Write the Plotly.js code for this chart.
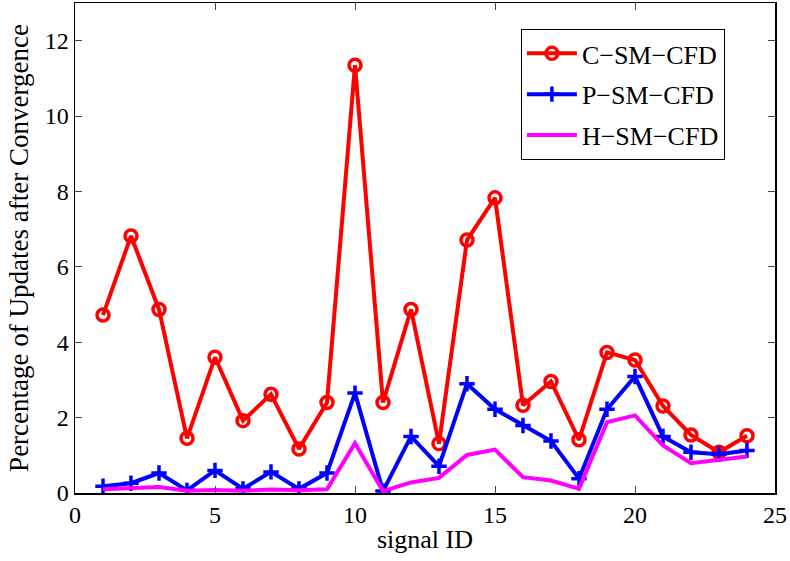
<!DOCTYPE html>
<html>
<head>
<meta charset="utf-8">
<script src="https://cdn.plot.ly/plotly-3.0.1.min.js"></script>
<style>
  html, body { margin: 0; padding: 0; background: #fff; }
  #chart { width: 790px; height: 561px; }
</style>
</head>
<body>
<div id="chart"></div>
<script>
// Signal IDs 1..24
const signalIds = [1, 2, 3, 4, 5, 6, 7, 8, 9, 10, 11, 12, 13, 14, 15, 16, 17, 18, 19, 20, 21, 22, 23, 24];

// Percentage of updates after convergence, per scheme
const cSmCfd = [4.72, 6.82, 4.87, 1.45, 3.60, 1.92, 2.62, 1.17, 2.40, 11.35, 2.40, 4.87,
                1.31, 6.71, 7.83, 2.33, 2.96, 1.41, 3.73, 3.53, 2.31, 1.54, 1.08, 1.52];
const pSmCfd = [0.18, 0.26, 0.53, 0.07, 0.60, 0.11, 0.56, 0.11, 0.53, 2.65, 0.05, 1.50,
                0.71, 2.90, 2.22, 1.79, 1.38, 0.38, 2.22, 3.09, 1.50, 1.08, 1.03, 1.13];
const hSmCfd = [0.10, 0.12, 0.16, 0.06, 0.08, 0.06, 0.09, 0.07, 0.10, 1.32, 0.05, 0.28,
                0.40, 1.01, 1.15, 0.42, 0.33, 0.11, 1.88, 2.06, 1.26, 0.79, 0.88, 0.97];

const seriesNames = ['C\u2212SM\u2212CFD', 'P\u2212SM\u2212CFD', 'H\u2212SM\u2212CFD'];

const xTicks = [0, 5, 10, 15, 20, 25];
const yTicks = [0, 2, 4, 6, 8, 10, 12];

const serif = '"Liberation Serif", "DejaVu Serif", serif';

const traces = [
  {
    x: signalIds, y: cSmCfd, name: seriesNames[0], legendgroup: 'a',
    type: 'scatter', mode: 'lines+markers',
    line: { color: '#ff0000', width: 4 },
    marker: { symbol: 'circle-open', size: 12, color: '#ff0000', line: { width: 3.5, color: '#ff0000' } }
  },
  {
    x: signalIds, y: pSmCfd, name: seriesNames[1], legendgroup: 'b',
    type: 'scatter', mode: 'lines+markers',
    line: { color: '#0000ff', width: 4 },
    marker: { symbol: 'cross-thin-open', size: 11, color: '#0000ff', line: { width: 3.5, color: '#0000ff' } }
  },
  {
    x: signalIds, y: hSmCfd, name: seriesNames[2], legendgroup: 'c',
    type: 'scatter', mode: 'lines',
    line: { color: '#ff00ff', width: 4 }
  }
];

const axisCommon = {
  showgrid: false, zeroline: false,
  showline: true, mirror: 'ticks',
  linecolor: '#000', linewidth: 1.5,
  ticks: 'inside', ticklen: 7, tickwidth: 1, tickcolor: '#444',
  tickfont: { family: serif, size: 24, color: '#000' }
};

const layout = {
  width: 790, height: 561,
  margin: { l: 75, r: 15, t: 3, b: 68 },
  paper_bgcolor: '#fff', plot_bgcolor: '#fff',
  font: { family: serif, color: '#000' },
  showlegend: true,
  xaxis: Object.assign({}, axisCommon, {
    range: [0, 25], tickvals: xTicks, ticktext: xTicks.map(String),
    title: { text: 'signal ID', font: { family: serif, size: 26, color: '#000' }, standoff: 2 }
  }),
  yaxis: Object.assign({}, axisCommon, {
    range: [0, 13], tickvals: yTicks, ticktext: yTicks.map(String),
    title: { text: 'Percentage of Updates after Convergence', font: { family: serif, size: 27, color: '#000' }, standoff: 8 }
  }),
  legend: {
    x: 0.637, y: 0.947, xanchor: 'left', yanchor: 'top',
    bgcolor: '#fff', bordercolor: '#000', borderwidth: 1,
    font: { family: serif, size: 26, color: '#000' },
    itemwidth: 50, traceorder: 'grouped', tracegroupgap: 4
  }
};

Plotly.newPlot('chart', traces, layout, { displayModeBar: false, staticPlot: true });
</script>
</body>
</html>
